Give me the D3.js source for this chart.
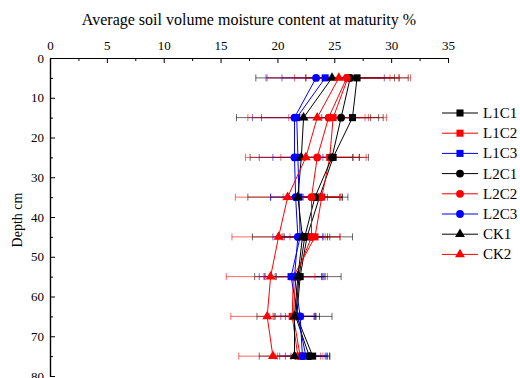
<!DOCTYPE html>
<html>
<head>
<meta charset="utf-8">
<script src="https://cdn.jsdelivr.net/npm/d3@7"></script>
<style>
  body { margin: 0; background: #fff; }
  svg text { font-family: "Liberation Serif", "Times New Roman", serif; fill: #000; }
</style>
</head>
<body>
<svg width="520" height="378"></svg>
<script>
const svg = d3.select('svg');

// depths (cm) and x ticks
const depths = [5, 15, 25, 35, 45, 55, 65, 75];
const xTicks = [0, 5, 10, 15, 20, 25, 30, 35];
const yTicks = [0, 10, 20, 30, 40, 50, 60, 70, 80];
const seriesNames = ['L1C1', 'L1C2', 'L1C3', 'L2C1', 'L2C2', 'L2C3', 'CK1', 'CK2'];

// mean moisture per depth
const L1C1 = [27.0, 26.6, 24.9, 23.7, 22.6, 22.0, 21.7, 23.1];
const L1C2 = [26.2, 24.9, 24.6, 23.9, 23.3, 21.4, 21.3, 21.8];
const L1C3 = [24.2, 21.7, 21.8, 21.9, 22.0, 21.2, 21.8, 22.5];
const L2C1 = [26.4, 25.6, 24.8, 23.3, 22.4, 21.9, 21.6, 22.8];
const L2C2 = [26.1, 24.5, 23.5, 23.0, 23.0, 21.6, 21.4, 22.0];
const L2C3 = [23.4, 21.5, 21.5, 21.6, 21.8, 21.5, 22.0, 22.2];
const CK1  = [24.8, 22.3, 22.1, 21.8, 22.2, 21.8, 21.5, 21.5];
const CK2  = [25.4, 23.5, 22.5, 20.9, 20.1, 19.4, 19.1, 19.6];

// error (+/-)
const L1C1err = [3.7, 2.7, 3.1, 2.0, 2.0, 2.2, 2.0, 1.5];
const L1C2err = [3.7, 2.8, 2.6, 1.6, 2.2, 2.5, 2.0, 2.0];
const L1C3err = [5.2, 3.9, 2.2, 2.5, 2.0, 2.8, 1.5, 1.8];
const L2C1err = [3.9, 3.3, 2.4, 2.4, 2.0, 2.0, 1.8, 1.6];
const L2C2err = [4.6, 3.5, 3.2, 2.5, 2.5, 2.8, 1.8, 2.0];
const L2C3err = [3.0, 2.9, 3.1, 2.2, 2.2, 2.6, 1.3, 2.0];
const CK1err  = [6.7, 5.9, 4.5, 4.4, 4.4, 3.8, 3.3, 3.1];
const CK2err  = [6.3, 6.1, 5.3, 4.6, 4.1, 3.9, 3.2, 3.0];

const means = [L1C1, L1C2, L1C3, L2C1, L2C2, L2C3, CK1, CK2];
const errs = [L1C1err, L1C2err, L1C3err, L2C1err, L2C2err, L2C3err, CK1err, CK2err];
const colors = ['#000000', '#ff0000', '#0000ff', '#000000', '#ff0000', '#0000ff', '#000000', '#ff0000'];
const shapes = [d3.symbolSquare, d3.symbolSquare, d3.symbolSquare, d3.symbolCircle, d3.symbolCircle, d3.symbolCircle, d3.symbolTriangle, d3.symbolTriangle];
const sizes = [50, 50, 50, 48, 48, 48, 42, 42];

const x = d3.scaleLinear().domain([0, 35]).range([50, 448]);
const y = d3.scaleLinear().domain([0, 80]).range([58, 376]);

const series = seriesNames.map((name, i) => ({
    name: name, color: colors[i], shape: shapes[i], size: sizes[i],
    pts: depths.map((d, j) => ({depth: d, v: means[i][j], e: errs[i][j]}))
}));

// axes
const gTop = svg.append('g').attr('transform', `translate(0,${y(0)})`);
gTop.call(d3.axisTop(x).tickValues(xTicks).tickSize(-5).tickPadding(8).tickSizeOuter(0));
svg.append('g').attr('transform', `translate(0,${y(0)})`)
    .call(d3.axisTop(x).tickValues(d3.range(2.5, 35, 5)).tickSize(-3).tickFormat('').tickSizeOuter(0));

const gLeft = svg.append('g').attr('transform', `translate(${x(0)},0)`);
gLeft.call(d3.axisLeft(y).tickValues(yTicks).tickSize(-5).tickPadding(6).tickSizeOuter(0));
svg.append('g').attr('transform', `translate(${x(0)},0)`)
    .call(d3.axisLeft(y).tickValues(d3.range(5, 80, 10)).tickSize(-3).tickFormat('').tickSizeOuter(0));

svg.selectAll('.domain').attr('stroke', '#000').attr('stroke-width', 1.2);
svg.selectAll('.tick line').attr('stroke', '#000');
svg.selectAll('.tick text').style('font-size', '13px').style('font-family', '"Liberation Serif", serif');

svg.append('text').attr('x', 249).attr('y', 25).attr('text-anchor', 'middle')
    .style('font-size', '16px').text('Average soil volume moisture content at maturity %');
svg.append('text').attr('transform', 'translate(22,220) rotate(-90)').attr('text-anchor', 'middle')
    .style('font-size', '14px').text('Depth cm');

// error bars
series.forEach(s => {
    const g = svg.append('g').attr('stroke', s.color).attr('stroke-opacity', 0.6).attr('fill', 'none');
    g.selectAll('line.bar').data(s.pts).enter().append('line')
        .attr('x1', d => x(d.v - d.e)).attr('x2', d => x(d.v + d.e))
        .attr('y1', d => y(d.depth)).attr('y2', d => y(d.depth));
    g.selectAll('line.capL').data(s.pts).enter().append('line')
        .attr('x1', d => x(d.v - d.e)).attr('x2', d => x(d.v - d.e))
        .attr('y1', d => y(d.depth) - 3.5).attr('y2', d => y(d.depth) + 3.5);
    g.selectAll('line.capR').data(s.pts).enter().append('line')
        .attr('x1', d => x(d.v + d.e)).attr('x2', d => x(d.v + d.e))
        .attr('y1', d => y(d.depth) - 3.5).attr('y2', d => y(d.depth) + 3.5);
});

// lines + markers
const line = d3.line().x(d => x(d.v)).y(d => y(d.depth));
series.forEach(s => {
    svg.append('path').datum(s.pts).attr('d', line)
        .attr('fill', 'none').attr('stroke', s.color).attr('stroke-width', 1);
    svg.append('g').selectAll('path').data(s.pts).enter().append('path')
        .attr('d', d3.symbol().type(s.shape).size(s.size))
        .attr('transform', d => `translate(${x(d.v)},${y(d.depth)})`)
        .attr('fill', s.color);
});

// legend
const legend = svg.append('g').attr('transform', 'translate(442,113)');
series.forEach((s, i) => {
    const g = legend.append('g').attr('transform', `translate(0,${i * 20.2})`);
    g.append('line').attr('x1', 0).attr('x2', 36).attr('stroke', s.color).attr('stroke-width', 1);
    g.append('path').attr('d', d3.symbol().type(s.shape).size(s.size)).attr('transform', 'translate(18,0)').attr('fill', s.color);
    g.append('text').attr('x', 41).attr('y', 5).style('font-size', '15px').text(s.name);
});
</script>
</body>
</html>
